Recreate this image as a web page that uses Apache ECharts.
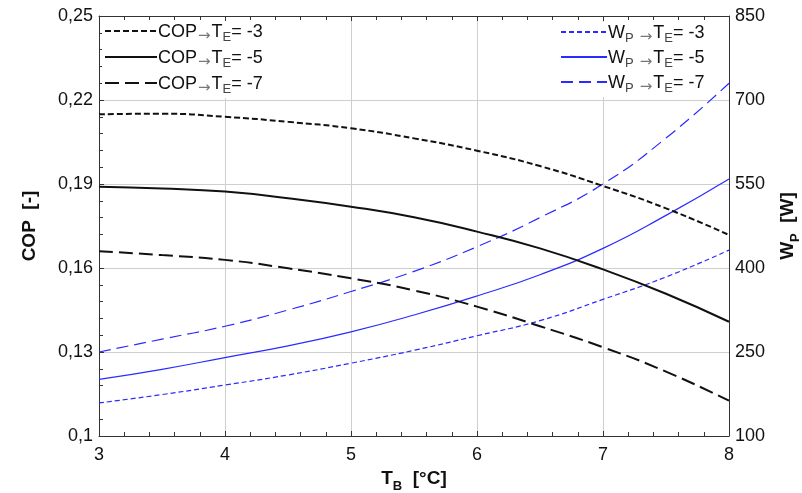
<!DOCTYPE html>
<html>
<head>
<meta charset="utf-8">
<script src="https://cdn.jsdelivr.net/npm/echarts@6/dist/echarts.min.js"></script>
<style>html,body{margin:0;padding:0;background:#fff;overflow:hidden;}#c{width:802px;height:493px;}</style>
</head>
<body>
<div id="c"></div>
<script>
const TB = [3, 3.5, 4, 4.5, 5, 5.5, 6, 6.5, 7, 7.5, 8];
const COP_m3 = [0.2149, 0.2151, 0.2140, 0.2122, 0.2099, 0.2063, 0.2019, 0.1964, 0.1893, 0.1813, 0.1718];
const COP_m5 = [0.1890, 0.1884, 0.1873, 0.1849, 0.1819, 0.1781, 0.1730, 0.1670, 0.1595, 0.1508, 0.1408];
const COP_m7 = [0.1660, 0.1646, 0.1629, 0.1599, 0.1563, 0.1520, 0.1462, 0.1392, 0.1317, 0.1230, 0.1126];
const WP_m3 = [159, 174, 191, 209, 230, 253, 279, 306, 344, 384, 432];
const WP_m5 = [201, 219, 240, 261, 286, 316, 350, 388, 435, 494, 559];
const WP_m7 = [250, 273, 296, 325, 358, 394, 438, 490, 550, 632, 730];
const xTicks = [3, 4, 5, 6, 7, 8];
const copTicks = ['0,1', '0,13', '0,16', '0,19', '0,22', '0,25'];
const wpTicks = [100, 250, 400, 550, 700, 850];

const pairs = (ys) => TB.map((x, i) => [x, ys[i]]);
const FONT = 'Liberation Sans, Arial, sans-serif';
const BLUE = '#2b2bff';

const rich = {
  a: { fontSize: 18, color: '#111', fontFamily: FONT, lineHeight: 20, verticalAlign: 'bottom' },
  g: { fontSize: 15, color: '#777', fontFamily: 'DejaVu Sans', lineHeight: 16, verticalAlign: 'bottom', padding: [0, 1, -3, 1] },
  s: { fontSize: 13, color: '#444', fontFamily: FONT, lineHeight: 14, verticalAlign: 'bottom', padding: [0, 0, -3, 0] }
};
const legendText = {
  'COP-3': '{a|COP}{g|→}{a|T}{s|E}{a|= -3}',
  'COP-5': '{a|COP}{g|→}{a|T}{s|E}{a|= -5}',
  'COP-7': '{a|COP}{g|→}{a|T}{s|E}{a|= -7}',
  'WP-3': '{a|W}{s|P}{a| }{g|→}{a|T}{s|E}{a|= -3}',
  'WP-5': '{a|W}{s|P}{a| }{g|→}{a|T}{s|E}{a|= -5}',
  'WP-7': '{a|W}{s|P}{a| }{g|→}{a|T}{s|E}{a|= -7}'
};

const chart = echarts.init(document.getElementById('c'), null, { renderer: 'canvas', width: 802, height: 493 });
const axisLine = { show: true, lineStyle: { color: '#333', width: 1 } };
const tickLabel = { fontSize: 18, color: '#111', fontFamily: FONT };
chart.setOption({
  animation: false,
  backgroundColor: '#fff',
  grid: { left: 99, top: 16, width: 630, height: 420, containLabel: false, outerBoundsMode: 'none' },
  legend: [
    {
      data: ['COP-3', 'COP-5', 'COP-7'],
      orient: 'vertical', left: 102, top: 21, itemGap: 5, itemWidth: 52, itemHeight: 14,
      backgroundColor: '#fff', padding: [2, 4, 2, 2],
      itemStyle: { opacity: 0 },
      formatter: (n) => legendText[n],
      textStyle: { rich: rich, padding: [0, 0, 0, -4] }
    },
    {
      data: ['WP-3', 'WP-5', 'WP-7'],
      orient: 'vertical', left: 558, top: 22, itemGap: 4, itemWidth: 46, itemHeight: 14,
      backgroundColor: '#fff', padding: [2, 4, 2, 2],
      itemStyle: { opacity: 0 },
      formatter: (n) => legendText[n],
      textStyle: { rich: rich, padding: [0, 0, 0, -4] }
    }
  ],
  xAxis: [
    {
      type: 'value', min: 3, max: 8, interval: 1, position: 'bottom',
      name: '{b|T}{bs|B}{b|  [°C]}', nameLocation: 'middle', nameGap: 28,
      nameTextStyle: { rich: {
        b: { fontSize: 19, fontWeight: 'bold', color: '#111', fontFamily: FONT, lineHeight: 22, verticalAlign: 'bottom' },
        bs: { fontSize: 13, fontWeight: 'bold', color: '#111', fontFamily: FONT, lineHeight: 14, verticalAlign: 'bottom', padding: [0, 0, -5, 0] }
      } },
      axisLine: axisLine,
      axisTick: { show: true, inside: true, length: 5, lineStyle: { color: '#333' } },
      minorTick: { show: true, splitNumber: 5, length: 4, lineStyle: { color: '#333' } },
      axisLabel: Object.assign({ margin: 10, formatter: (v) => String(v) }, tickLabel),
      splitLine: { show: true, lineStyle: { color: '#cfcfcf', width: 1 } }
    },
    {
      type: 'value', min: 3, max: 8, interval: 1, position: 'top',
      axisLine: axisLine,
      axisTick: { show: true, inside: true, length: 5, lineStyle: { color: '#333' } },
      minorTick: { show: true, splitNumber: 5, length: 4, lineStyle: { color: '#333' } },
      axisLabel: { show: false },
      splitLine: { show: false }
    }
  ],
  yAxis: [
    {
      type: 'value', min: 0.1, max: 0.25, interval: 0.03, position: 'left',
      name: 'COP  [-]', nameLocation: 'middle', nameGap: 60, nameRotate: 90,
      nameTextStyle: { fontSize: 19, fontWeight: 'bold', color: '#111', fontFamily: FONT },
      axisLine: axisLine,
      axisTick: { show: true, inside: true, length: 5, lineStyle: { color: '#333' } },
      minorTick: { show: true, splitNumber: 5, length: 4, lineStyle: { color: '#333' } },
      axisLabel: Object.assign({ margin: 6,
        formatter: (v, i) => copTicks[i] !== undefined ? copTicks[i] : String(v).replace('.', ',') }, tickLabel),
      splitLine: { show: true, lineStyle: { color: '#cfcfcf', width: 1 } }
    },
    {
      type: 'value', min: 100, max: 850, interval: 150, position: 'right',
      name: '{b|W}{bs|P}{b|  [W]}', nameLocation: 'middle', nameGap: 46, nameRotate: 90,
      nameTextStyle: { rich: {
        b: { fontSize: 19, fontWeight: 'bold', color: '#111', fontFamily: FONT, lineHeight: 22, verticalAlign: 'bottom' },
        bs: { fontSize: 13, fontWeight: 'bold', color: '#111', fontFamily: FONT, lineHeight: 14, verticalAlign: 'bottom', padding: [0, 0, -5, 0] }
      } },
      axisLine: axisLine,
      axisTick: { show: false },
      axisLabel: Object.assign({ margin: 6, formatter: (v) => String(v) }, tickLabel),
      splitLine: { show: false }
    }
  ],
  series: [
    { name: 'WP-3', type: 'line', yAxisIndex: 1, data: pairs(WP_m3), smooth: true, symbol: 'none',
      lineStyle: { color: BLUE, width: 1.2, type: [5, 3] }, itemStyle: { color: BLUE } },
    { name: 'WP-5', type: 'line', yAxisIndex: 1, data: pairs(WP_m5), smooth: true, symbol: 'none',
      lineStyle: { color: BLUE, width: 1.2, type: 'solid' }, itemStyle: { color: BLUE } },
    { name: 'WP-7', type: 'line', yAxisIndex: 1, data: pairs(WP_m7), smooth: true, symbol: 'none',
      lineStyle: { color: BLUE, width: 1.2, type: [12, 6] }, itemStyle: { color: BLUE } },
    { name: 'COP-3', type: 'line', yAxisIndex: 0, data: pairs(COP_m3), smooth: true, symbol: 'none',
      lineStyle: { color: '#111', width: 2, type: [6, 3] }, itemStyle: { color: '#111' } },
    { name: 'COP-5', type: 'line', yAxisIndex: 0, data: pairs(COP_m5), smooth: true, symbol: 'none',
      lineStyle: { color: '#111', width: 2, type: 'solid' }, itemStyle: { color: '#111' } },
    { name: 'COP-7', type: 'line', yAxisIndex: 0, data: pairs(COP_m7), smooth: true, symbol: 'none',
      lineStyle: { color: '#111', width: 2, type: [14, 6] }, itemStyle: { color: '#111' } }
  ]
});
</script>
</body>
</html>
